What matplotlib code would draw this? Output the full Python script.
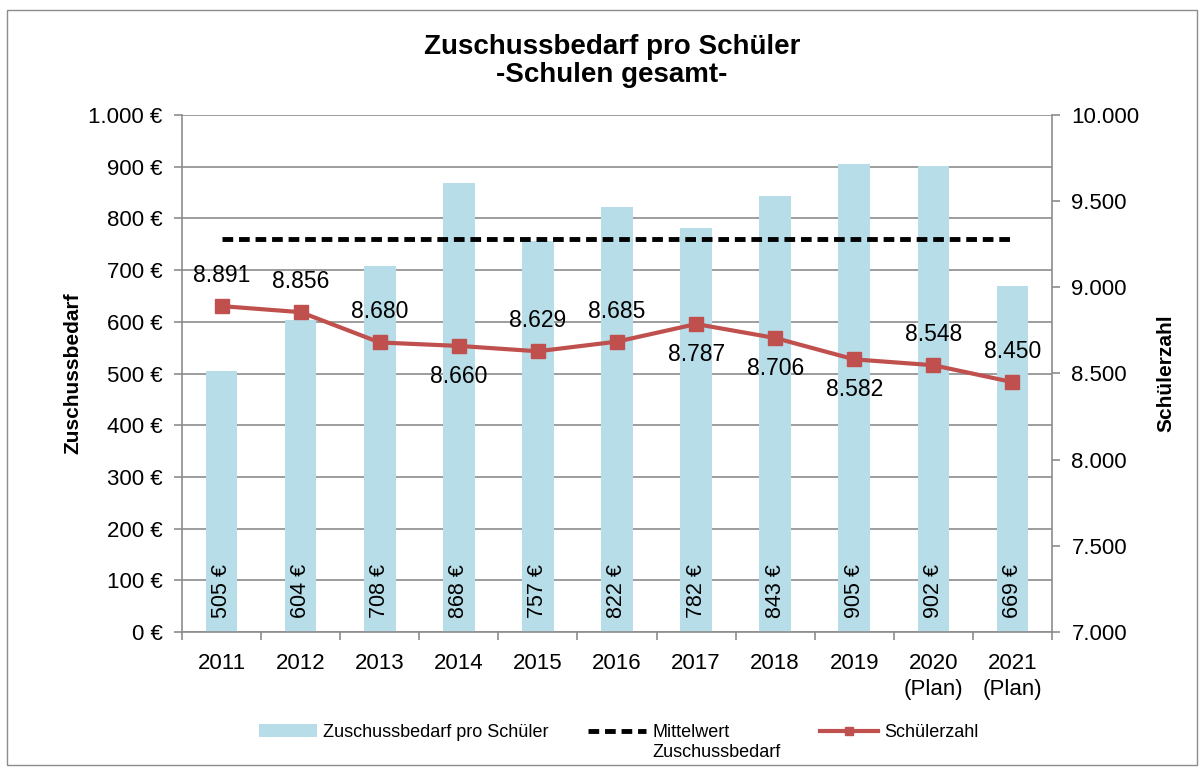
import matplotlib
matplotlib.use("Agg")
import matplotlib.pyplot as plt
import numpy as np
from matplotlib.patches import Rectangle
from matplotlib.lines import Line2D
from matplotlib.patches import Patch

plt.rcParams['font.family'] = ['Liberation Sans', 'DejaVu Sans']

# data
years = ["2011", "2012", "2013", "2014", "2015", "2016", "2017", "2018", "2019",
         "2020\n(Plan)", "2021\n(Plan)"]
zuschuss = [505, 604, 708, 868, 757, 822, 782, 843, 905, 902, 669]
schueler = [8891, 8856, 8680, 8660, 8629, 8685, 8787, 8706, 8582, 8548, 8450]
label_above = [True, True, True, False, True, True, False, False, False, True, True]

bar_color = "#b7dde8"
line_color = "#c0504d"
grid_color = "#8c8c8c"

def fmt(v):
    return f"{v:,}".replace(",", ".")

fig = plt.figure(figsize=(12.04, 7.71), dpi=100)
fig.patches.append(Rectangle((7 / 1204, 1 - 765 / 771), 1190 / 1204, 755 / 771,
                             transform=fig.transFigure, fill=False,
                             edgecolor="#8c8c8c", linewidth=1))

ax = fig.add_axes([182 / 1204, 1 - 632 / 771, 870 / 1204, 517 / 771])
x = np.arange(len(years))

ax.bar(x, zuschuss, width=0.4, color=bar_color, zorder=2)
mean_val = np.mean(zuschuss)
ax.plot(x, [mean_val] * len(x), color="black", linestyle=(0, (2.2, 1.2)),
        linewidth=3.5, zorder=3)

for xi, v in zip(x, zuschuss):
    ax.annotate(f"{v} €", (xi, 0), xytext=(0, 10), textcoords="offset points",
                rotation=90, ha="center", va="bottom", fontsize=15.5)

ax.set_xlim(-0.5, len(x) - 0.5)
ax.set_ylim(0, 1000)
ax.set_yticks(np.arange(0, 1001, 100))
ax.set_yticklabels([f"{fmt(v)} €" for v in range(0, 1001, 100)], fontsize=16)
ax.yaxis.grid(True, color=grid_color, linewidth=1.2, zorder=0)
ax.set_axisbelow(True)
ax.set_xticks(x)
ax.set_xticklabels(years, fontsize=16, linespacing=1.3)
ax.set_xticks(np.arange(-0.5, len(x), 1), minor=True)
ax.tick_params(axis="x", which="major", length=0, pad=15)
ax.tick_params(axis="x", which="minor", length=6, color=grid_color, width=1.2)
ax.tick_params(axis="y", length=6, color=grid_color, width=1.2, pad=8)
for s in ["top", "right"]:
    ax.spines[s].set_visible(False)
for s in ["left", "bottom"]:
    ax.spines[s].set_color(grid_color)
    ax.spines[s].set_linewidth(1.2)
ax.set_ylabel("Zuschussbedarf", fontsize=15, fontweight="bold", labelpad=4)

ax2 = ax.twinx()
ax2.plot(x, schueler, color=line_color, linewidth=3, marker="s", markersize=10,
         zorder=5)
for xi, v, up in zip(x, schueler, label_above):
    ax2.annotate(fmt(v), (xi, v), xytext=(0, 22 if up else -22),
                 textcoords="offset points", ha="center", va="center", fontsize=16.5)
ax2.set_ylim(7000, 10000)
ax2.set_yticks(np.arange(7000, 10001, 500))
ax2.set_yticklabels([fmt(v) for v in range(7000, 10001, 500)], fontsize=16)
ax2.tick_params(axis="y", length=6, color=grid_color, width=1.2, pad=8)
for s in ["top", "left", "bottom"]:
    ax2.spines[s].set_visible(False)
ax2.spines["right"].set_color(grid_color)
ax2.spines["right"].set_linewidth(1.2)
ax2.set_ylabel("Schülerzahl", fontsize=15, fontweight="bold", labelpad=12)

fig.text(612 / 1204, 1 - 61 / 771, "Zuschussbedarf pro Schüler\n-Schulen gesamt-",
         ha="center", va="center", fontsize=20, fontweight="bold", linespacing=1.1)

handles = [Patch(facecolor=bar_color),
           Line2D([], [], color="black", linestyle=(0, (2.2, 1.2)), linewidth=3.5),
           Line2D([], [], color=line_color, linewidth=3, marker="s", markersize=6)]
labels = ["Zuschussbedarf pro Schüler", "Mittelwert\nZuschussbedarf", "Schülerzahl"]
leg = fig.legend(handles, labels, loc="upper center", ncol=3, frameon=False,
                 bbox_to_anchor=(619 / 1204, 1 - 708 / 771), fontsize=13,
                 handlelength=3.2, handletextpad=0.35, columnspacing=2.2)
# put the handles level with the first text line
leg._legend_handle_box.align = "top"
for col in leg._legend_handle_box.get_children():
    for item in col.get_children():
        item.align = "top"

fig.savefig("out.png", dpi=100)
